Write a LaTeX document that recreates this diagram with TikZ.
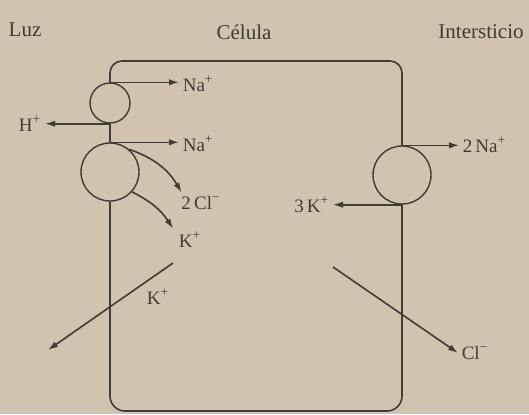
\documentclass[tikz,border=0pt]{standalone}
\usepackage{fontspec}
\setmainfont{Liberation Serif}
\usetikzlibrary{arrows.meta}

\definecolor{paper}{RGB}{208,196,177}
\definecolor{ink}{RGB}{66,58,52}

\begin{document}
\begin{tikzpicture}[x=0.5pt, y=-0.5pt, line width=0.8pt, draw=ink, text=ink,
  pump/.style={circle, draw=ink, line width=0.7pt, inner sep=0pt},
  ion/.style={font=\fontsize{9.5}{11}\selectfont, inner sep=1.5pt},
  title/.style={font=\fontsize{10.5}{12}\selectfont},
  flux/.style={-{Latex[length=5pt,width=3.2pt]}, draw=ink}]
  \fill[paper] (0,0) rectangle (529,414);
  \useasboundingbox (0,0) rectangle (529,414);

  % titles
  \node[title] (luz) at (25,30) {Luz};
  \node[title] (celula) at (244,32) {Célula};
  \node[title] (inter) at (481,32) {Intersticio};

  % pumps and carriers
  \node[pump, minimum size=20pt] (pumpNaH) at (110,103) {};
  \node[pump, minimum size=29pt] (cotrans) at (110,172) {};
  \node[pump, minimum size=29pt] (pumpNaK) at (402,175) {};

  % cell outline
  \coordinate (tr) at (402,61);
  \coordinate (br) at (402,411);
  \draw[rounded corners=6pt] (pumpNaH.north) |- (tr) -- (pumpNaK.north);
  \draw[rounded corners=7.5pt] (cotrans.south) |- (br) -- (pumpNaK.south);
  \draw (pumpNaH.south) -- (cotrans.north);

  % luminal side
  \node[ion, anchor=west] (naTop) at (179,84) {Na\textsuperscript{+}};
  \node[ion, anchor=east] (hOut) at (45,124) {H\textsuperscript{+}};
  \node[ion, anchor=west] (naCo) at (179,144) {Na\textsuperscript{+}};
  \node[ion] (clCo) at (201,203) {2\,Cl\textsuperscript{−}};
  \node[ion] (kCo) at (190,240) {K\textsuperscript{+}};
  \draw[flux] (pumpNaH.north) -- (pumpNaH.north -| naTop.west);
  \draw[flux] (pumpNaH.south) -- (pumpNaH.south -| hOut.east);
  \draw[flux] (cotrans.north) -- (cotrans.north -| naCo.west);
  \draw[flux] (cotrans.50) to[bend left=20] ([xshift=2pt]clCo.north west);
  \draw[flux] (cotrans.-42) to[bend left=15] ([xshift=-1pt]kCo.north west);

  % interstitial side
  \node[ion, anchor=west] (naOut) at (459,145) {2\,Na\textsuperscript{+}};
  \node[ion, anchor=east] (kIn) at (333,205) {3\,K\textsuperscript{+}};
  \draw[flux] (pumpNaK.north) -- (pumpNaK.north -| naOut.west);
  \draw[flux] (pumpNaK.south) -- (pumpNaK.south -| kIn.east);

  % leak channels
  \coordinate (kStart) at (173,263);
  \coordinate (kEnd) at (48,350);
  \node[ion] (kLeak) at (158,297) {K\textsuperscript{+}};
  \draw[flux] (kStart) -- (kEnd);
  \coordinate (clStart) at (333,267);
  \node[ion, anchor=west] (clOut) at (458,353) {Cl\textsuperscript{−}};
  \draw[flux] (clStart) -- (clOut.west);
\end{tikzpicture}
\end{document}
